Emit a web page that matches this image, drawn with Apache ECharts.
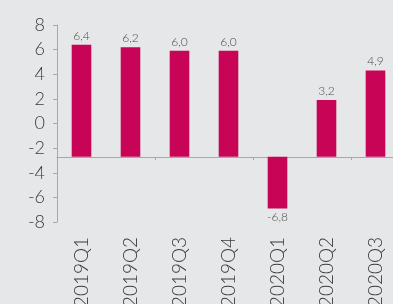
<!DOCTYPE html>
<html>
<head>
<meta charset="utf-8">
<script src="https://cdn.jsdelivr.net/npm/echarts@6/dist/echarts.min.js"></script>
<style>
  html, body { margin: 0; padding: 0; background: #e6e7e9; }
  #chart { width: 393px; height: 304px; }
</style>
</head>
<body>
<div id="chart"></div>
<script>
// 数据
const categories = ['2019Q1', '2019Q2', '2019Q3', '2019Q4', '2020Q1', '2020Q2', '2020Q3']
const barValues = [6.4, 6.2, 5.9, 5.9, -6.9, 1.9, 4.3]
const labelTexts = ['6,4', '6,2', '6,0', '6,0', '-6,8', '3,2', '4,9']
const baseline = -2.7

const chart = echarts.init(document.getElementById('chart'))

const option = {
  backgroundColor: '#e6e7e9',
  animation: false,
  grid: { left: 57, right: -7, top: 25, bottom: 82, containLabel: false, outerBoundsMode: 'none' },
  xAxis: [
    {
      type: 'category',
      data: categories,
      position: 'bottom',
      axisLine: { show: false },
      axisTick: { show: false },
      axisLabel: {
        rotate: 90,
        margin: 15,
        fontSize: 19,
        fontFamily: 'Lato',
        fontWeight: 300,
        color: '#3a3a3a'
      }
    },
    {
      // 基线所在的轴（位于 -2.7）
      type: 'category',
      data: categories,
      position: 'bottom',
      offset: -65,
      axisLine: { show: true, onZero: false, lineStyle: { color: '#a8a8a8', width: 1 } },
      axisTick: { show: true, length: 3, lineStyle: { color: '#a8a8a8' } },
      axisLabel: { show: false }
    }
  ],
  yAxis: {
    type: 'value',
    min: -8,
    max: 8,
    interval: 2,
    splitLine: { show: false },
    axisLine: { show: true, lineStyle: { color: '#a8a8a8', width: 1 } },
    axisTick: { show: true, length: 4, lineStyle: { color: '#a8a8a8' } },
    axisLabel: {
      margin: 12,
      fontSize: 18,
      fontFamily: 'Lato',
      fontWeight: 300,
      color: '#3a3a3a'
    }
  },
  series: [
    {
      type: 'custom',
      xAxisIndex: 0,
      data: barValues.map((v, i) => [i, v]),
      renderItem(params, api) {
        const i = api.value(0)
        const v = api.value(1)
        const p0 = api.coord([i, baseline])
        const p1 = api.coord([i, v])
        const w = api.size([1, 0])[0] * 0.4
        const up = v >= baseline
        return {
          type: 'group',
          children: [
            {
              type: 'rect',
              shape: { x: p0[0] - w / 2, y: Math.min(p0[1], p1[1]), width: w, height: Math.abs(p1[1] - p0[1]) },
              style: { fill: '#c70456' }
            },
            {
              type: 'text',
              x: p1[0],
              y: up ? p1[1] - 3 : p1[1] + 3,
              style: {
                text: labelTexts[params.dataIndex],
                fill: '#4a4a4a',
                font: '300 12px Lato',
                align: 'center',
                verticalAlign: up ? 'bottom' : 'top'
              }
            }
          ]
        }
      }
    }
  ]
}

chart.setOption(option)
</script>
</body>
</html>
